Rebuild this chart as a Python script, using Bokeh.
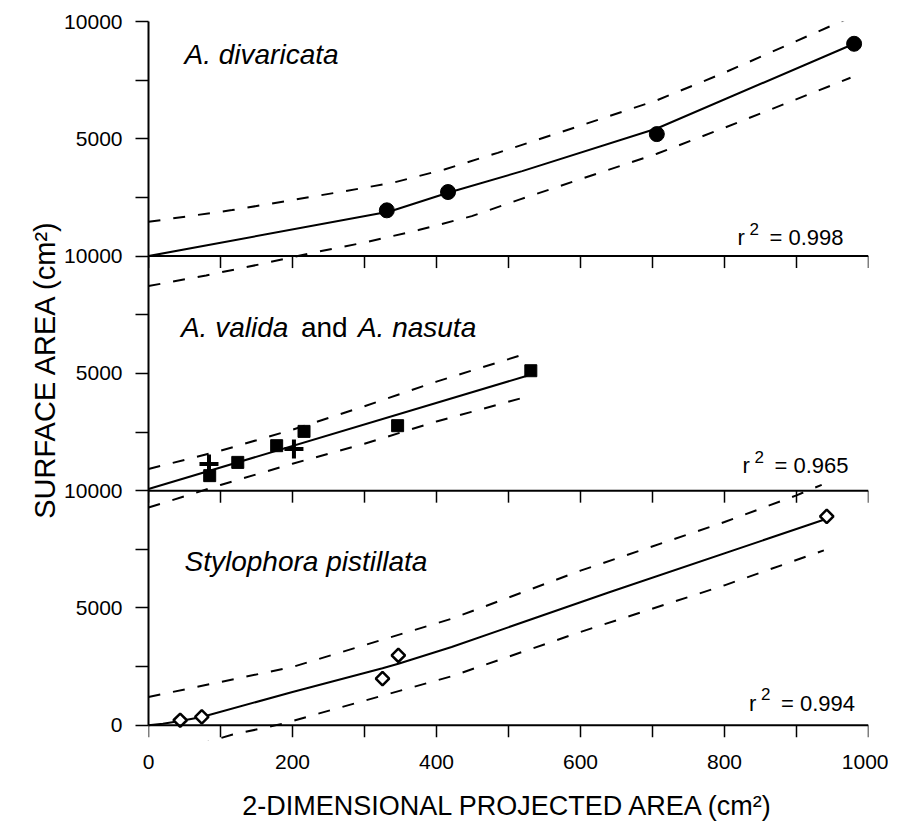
import math
from bokeh.plotting import figure
from bokeh.models import Range1d, FixedTicker, Span
from bokeh.embed import file_html
from bokeh.resources import INLINE
from bokeh.core.properties import value

# ---------------- data ----------------
# Panel 1: A. divaricata
div_x = [331, 416, 706, 980]
div_y = [1950, 2730, 5200, 9050]
div_fit_x = [0, 335, 416, 519, 706, 980]
div_fit_y = [0, 1900, 2700, 3620, 5440, 9050]
div_up_x = [0, 116, 191, 265, 339, 411, 485, 600, 706, 800, 975]
div_up_y = [1460, 1960, 2343, 2727, 3124, 3694, 4400, 5560, 6640, 7820, 10180]
div_lo_x = [0, 80, 154, 228, 303, 375, 449, 516, 600, 706, 800, 975]
div_lo_y = [-1278, -824, -355, 142, 597, 1108, 1704, 2416, 3280, 4360, 5470, 7600]

# Panel 2: A. valida (squares) and A. nasuta (crosses)
val_x = [85, 124, 178, 216, 346, 531]
val_y = [640, 1206, 1917, 2527, 2770, 5113]
nas_x = [84, 202]
nas_y = [1138, 1777]
val_fit_x = [0, 526]
val_fit_y = [70, 4900]
val_band_x = [0, 100, 200, 300, 400, 526]
val_up_y = [925, 1700, 2600, 3600, 4650, 5855]
val_lo_y = [-720, 240, 1150, 2000, 2950, 4010]

# Panel 3: Stylophora pistillata
sty_x = [44, 74, 325, 347, 942]
sty_y = [213, 354, 1990, 2983, 8905]
sty_fit_x = [0, 20, 44, 74, 200, 325, 347, 421, 640, 942]
sty_fit_y = [0, 60, 180, 350, 1420, 2430, 2620, 3336, 5670, 8800]
sty_up_x = [0, 200, 421, 600, 800, 900, 935]
sty_up_y = [1206, 2485, 4540, 6590, 8663, 9800, 10250]
sty_lo_x = [0, 45, 82, 117, 156, 191, 228, 421, 600, 800, 938]
sty_lo_y = [-1280, -967, -711, -397, -142, 98, 426, 2090, 3977, 5965, 7456]

r2_text = ["0.998", "0.965", "0.994"]
r2_x = [818, 825, 834]
r2_y = [775, 1070, 946]

# axis ticks
x_ticks = [0, 100, 200, 300, 400, 500, 600, 700, 800, 900, 1000]
x_label_ticks = [0, 200, 400, 600, 800, 1000]
y_ticks = [0, 2500, 5000, 7500, 10000, 12500, 15000, 17500, 20000, 22500, 25000, 27500, 30000]
y_tick_text = ["0", "", "5000", "", "10000", "", "5000", "", "10000", "", "5000", "", "10000"]
panel_bases = [0, 10000, 20000]

FONT = "Liberation Sans"

p = figure(frame_width=720, frame_height=719,
           x_range=Range1d(0, 1000), y_range=Range1d(-650, 30000),
           output_backend="svg", toolbar_location=None,
           min_border_left=148, min_border_right=20, min_border_top=21, min_border_bottom=0)
p.extra_y_ranges = {"p2": Range1d(-10650, 20000), "p1": Range1d(-20650, 10000)}
p.grid.visible = False
p.outline_line_color = None
p.background_fill_color = "white"
p.border_fill_color = "white"

# y axis
ya = p.yaxis[0]
ya.ticker = FixedTicker(ticks=y_ticks)
ya.major_label_overrides = {t: s for t, s in zip(y_ticks, y_tick_text)}
ya.bounds = (0, 30000)
ya.axis_line_width = 2
ya.axis_line_color = "black"
ya.major_tick_out = 13
ya.major_tick_in = 0
ya.minor_tick_out = 0
ya.minor_tick_in = 0
ya.major_tick_line_width = 1.5
ya.major_tick_line_color = "black"
ya.major_label_text_font = FONT
ya.major_label_text_font_size = "21px"
ya.major_label_text_color = "black"
ya.major_label_standoff = 13
ya.axis_label = "\u00a0\u00a0\u00a0SURFACE AREA (cm²)"
ya.axis_label_text_font = FONT
ya.axis_label_text_font_size = "29px"
ya.axis_label_text_font_style = "normal"
ya.axis_label_text_color = "black"
ya.axis_label_standoff = 0

# x axis (labels only, the axis lines are drawn at each panel base)
xa = p.xaxis[0]
xa.ticker = FixedTicker(ticks=x_label_ticks)
xa.axis_line_color = None
xa.major_tick_out = 0
xa.major_tick_in = 0
xa.minor_tick_out = 0
xa.minor_tick_in = 0
xa.major_label_text_font = FONT
xa.major_label_text_font_size = "21px"
xa.major_label_text_color = "black"
xa.major_label_standoff = 14
xa.axis_label = "2-DIMENSIONAL PROJECTED AREA (cm²)"
xa.axis_label_text_font = FONT
xa.axis_label_text_font_size = "27px"
xa.axis_label_text_font_style = "normal"
xa.axis_label_text_color = "black"
xa.axis_label_standoff = 19

# panel base lines and their ticks
for base in panel_bases:
    p.add_layout(Span(location=base, dimension="width", line_color="black", line_width=2))
    p.ray(x=x_ticks, y=[base] * len(x_ticks), length=12, length_units="screen",
          angle=-math.pi / 2, line_color="black", line_width=1.5)

DASH = "12 13"

# Panel 1
p.line(div_up_x, div_up_y, y_range_name="p1", line_color="black", line_width=2, line_dash=DASH)
p.line(div_lo_x, div_lo_y, y_range_name="p1", line_color="black", line_width=2, line_dash=DASH)
p.line(div_fit_x, div_fit_y, y_range_name="p1", line_color="black", line_width=2)
p.scatter(div_x, div_y, y_range_name="p1", marker="circle", size=15, color="black")

# Panel 2
p.line(val_band_x, val_up_y, y_range_name="p2", line_color="black", line_width=2, line_dash=DASH)
p.line(val_band_x, val_lo_y, y_range_name="p2", line_color="black", line_width=2, line_dash=DASH)
p.line(val_fit_x, val_fit_y, y_range_name="p2", line_color="black", line_width=2)
p.scatter(val_x, val_y, y_range_name="p2", marker="square", size=12, color="black")
p.scatter(nas_x, nas_y, y_range_name="p2", marker="cross", size=19, line_color="black", line_width=4)

# Panel 3
p.line(sty_up_x, sty_up_y, line_color="black", line_width=2, line_dash=DASH)
p.line(sty_lo_x, sty_lo_y, line_color="black", line_width=2, line_dash=DASH)
p.line(sty_fit_x, sty_fit_y, line_color="black", line_width=2)
p.scatter(sty_x, sty_y, marker="square", angle=math.pi / 4, size=9.5,
          fill_color="white", line_color="black", line_width=2.5)

# species names
common = dict(text_font=value(FONT), text_font_size="28px", text_baseline="alphabetic",
              text_align="left", text_color="black")
p.text(x=[50], y=[8590], text=["A. divaricata"], y_range_name="p1", text_font_style="italic", **common)
p.text(x=[45], y=[6960], text=["A. valida"], y_range_name="p2", text_font_style="italic", **common)
p.text(x=[45], y=[6960], x_offset=120, text=["and"], y_range_name="p2", text_font_style="normal", **common)
p.text(x=[45], y=[6960], x_offset=177, text=["A. nasuta"], y_range_name="p2", text_font_style="italic", **common)
p.text(x=[50], y=[6990], text=["Stylophora pistillata"], text_font_style="italic", **common)

# r^2 labels
rcommon = dict(text_font=value(FONT), text_baseline="alphabetic", text_align="left", text_color="black")
for name, rx, ry, rt in zip(["p1", "p2", "default"], r2_x, r2_y, r2_text):
    p.text(x=[rx], y=[ry], text=["r"], y_range_name=name, text_font_size="22px", **rcommon)
    p.text(x=[rx], y=[ry], text=["2"], x_offset=12, y_offset=-9, y_range_name=name,
           text_font_size="17px", **rcommon)
    p.text(x=[rx], y=[ry], text=["= " + rt], x_offset=32, y_range_name=name,
           text_font_size="22px", **rcommon)

open("out.html", "w").write(file_html(p, INLINE))
